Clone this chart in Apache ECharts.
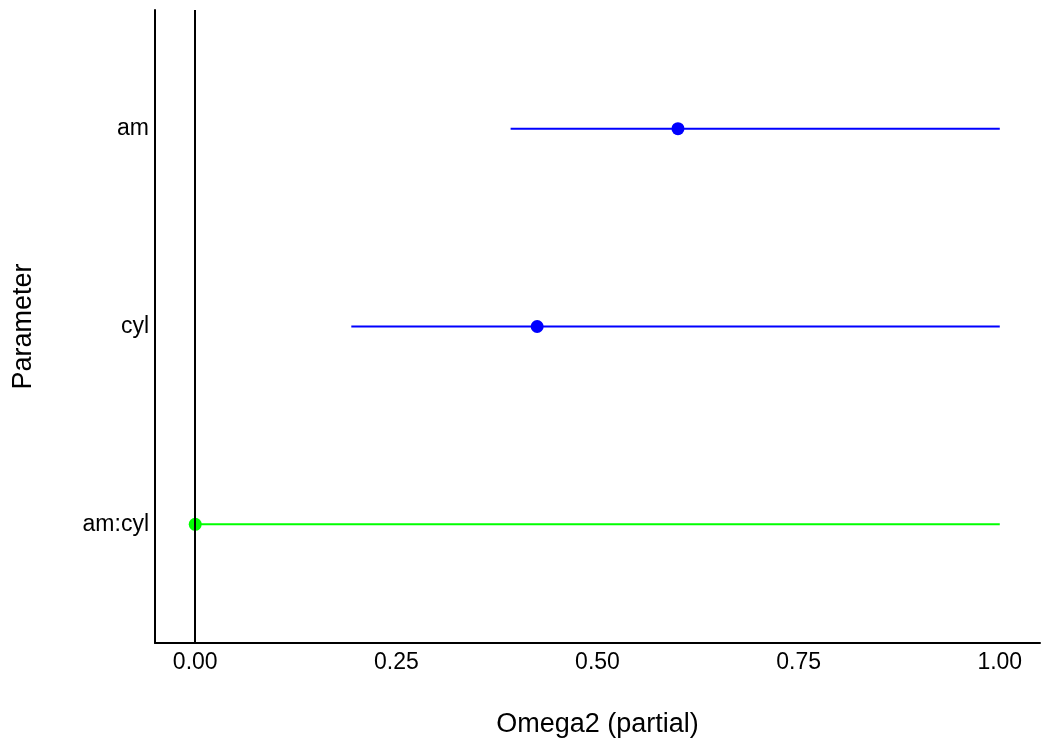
<!DOCTYPE html>
<html>
<head>
<meta charset="utf-8">
<script src="https://cdn.jsdelivr.net/npm/echarts@6/dist/echarts.min.js"></script>
<style>html,body{margin:0;padding:0;background:#fff}#c{width:1050px;height:750px}</style>
</head>
<body>
<div id="c"></div>
<script>
var parameters = ['am', 'cyl', 'am:cyl'];
var omega2 = [0.60, 0.425, 0.0];
var ciLow = [0.392, 0.194, 0.0];
var ciHigh = [1.0, 1.0, 1.0];
var pointColors = ['#0000FF', '#0000FF', '#00FF00'];
var xTicks = [0, 0.25, 0.5, 0.75, 1.0];
var yPositions = [1, 2, 3];

var chart = echarts.init(document.getElementById('c'));
var rows = parameters.map(function (p, i) {
  return [omega2[i], yPositions[i], ciLow[i], ciHigh[i], i];
});
var font = 'Liberation Sans, Arial, sans-serif';
chart.setOption({
  animation: false,
  grid: { left: 155, right: 10, top: 10, bottom: 107 },
  xAxis: {
    type: 'value', min: -0.05, max: 1.05,
    name: 'Omega2 (partial)', nameLocation: 'middle', nameGap: 68,
    nameTextStyle: { fontSize: 27, color: '#000', fontFamily: font },
    axisLine: { show: true, onZero: false, lineStyle: { color: '#000', width: 2 } },
    axisTick: { show: false },
    splitLine: { show: false },
    axisLabel: {
      customValues: xTicks, fontSize: 23, color: '#000', fontFamily: font, margin: 8,
      formatter: function (v) { return v.toFixed(2); }
    }
  },
  yAxis: {
    type: 'value', min: 0.4, max: 3.6, inverse: true,
    name: 'Parameter', nameLocation: 'middle', nameGap: 118,
    nameTextStyle: { fontSize: 27, color: '#000', fontFamily: font },
    axisLine: { show: true, onZero: false, lineStyle: { color: '#000', width: 2 } },
    axisTick: { show: false },
    splitLine: { show: false },
    axisLabel: {
      customValues: yPositions, fontSize: 23, color: '#000', fontFamily: font, margin: 6,
      formatter: function (v) { return parameters[Math.round(v) - 1]; }
    }
  },
  series: [
    {
      type: 'custom',
      data: rows,
      encode: { x: [0, 2, 3], y: 1 },
      renderItem: function (params, api) {
        var y = api.value(1);
        var a = api.coord([api.value(2), y]);
        var b = api.coord([api.value(3), y]);
        return {
          type: 'line',
          shape: { x1: a[0], y1: a[1], x2: b[0], y2: b[1] },
          style: { stroke: pointColors[api.value(4)], lineWidth: 2 }
        };
      },
      markLine: {
        silent: true, symbol: 'none', label: { show: false },
        lineStyle: { color: '#000', width: 2, type: 'solid' },
        data: [{ xAxis: 0 }]
      },
      z: 2
    },
    {
      type: 'scatter',
      data: rows.map(function (r) { return [r[0], r[1], r[4]]; }),
      symbolSize: 13,
      itemStyle: { color: function (p) { return pointColors[p.data[2]]; }, opacity: 1 },
      z: 3
    }
  ]
});
</script>
</body>
</html>
